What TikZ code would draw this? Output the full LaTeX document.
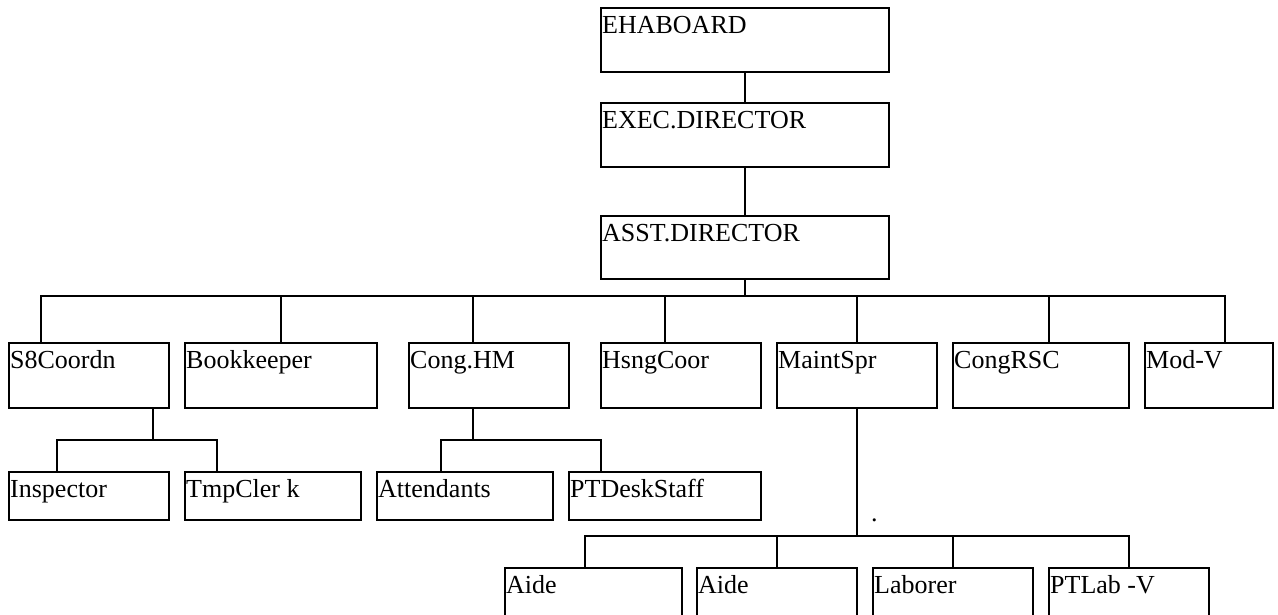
\documentclass[tikz,border=0pt]{standalone}
\usepackage{fontspec}
\setmainfont{Liberation Serif}
\begin{document}
\begin{tikzpicture}[x=1pt,y=-1pt,
  box/.style={draw,line width=2pt,anchor=north west,inner sep=0pt,outer sep=0pt,minimum width=#1},
  top/.style={minimum height=64pt},
  mid/.style={minimum height=65pt},
  low/.style={minimum height=48pt},
  bot/.style={minimum height=80pt},
  lbl/.style={anchor=base west,inner sep=0pt,font=\fontsize{26}{30}\selectfont},
  conn/.style={line width=2pt}]
\useasboundingbox (0,0) rectangle (1278,614);
\clip (0,0) rectangle (1278,614);
% top chain
\node[box=288pt,top] (eha) at (601,8) {};
\node[box=288pt,top] (exec) at (601,103) {};
\node[box=288pt,top,minimum height=63pt] (asst) at (601,216) {};
% level 1
\node[box=160pt,mid] (s8) at (9,343) {};
\node[box=192pt,mid] (book) at (185,343) {};
\node[box=160pt,mid] (cong) at (409,343) {};
\node[box=160pt,mid] (hsng) at (601,343) {};
\node[box=160pt,mid] (maint) at (777,343) {};
\node[box=176pt,mid] (rsc) at (953,343) {};
\node[box=128pt,mid] (modv) at (1145,343) {};
% level 2
\node[box=160pt,low] (insp) at (9,472) {};
\node[box=176pt,low] (tmp) at (185,472) {};
\node[box=176pt,low] (att) at (377,472) {};
\node[box=192pt,low] (ptd) at (569,472) {};
% level 3
\node[box=177pt,bot] (aide1) at (505,568) {};
\node[box=160pt,bot] (aide2) at (697,568) {};
\node[box=160pt,bot] (lab) at (873,568) {};
\node[box=160pt,bot] (ptlab) at (1049,568) {};
% labels
\node[lbl] at ([shift={(1,25)}]eha.north west) {EHABOARD};
\node[lbl] at ([shift={(1,25)}]exec.north west) {EXEC.DIRECTOR};
\node[lbl] at ([shift={(1,25)}]asst.north west) {ASST.DIRECTOR};
\node[lbl] at ([shift={(1,25)}]s8.north west) {S8Coordn};
\node[lbl] at ([shift={(1,25)}]book.north west) {Bookkeeper};
\node[lbl] at ([shift={(1,25)}]cong.north west) {Cong.HM};
\node[lbl] at ([shift={(1,25)}]hsng.north west) {HsngCoor};
\node[lbl] at ([shift={(1,25)}]maint.north west) {MaintSpr};
\node[lbl] at ([shift={(1,25)}]rsc.north west) {CongRSC};
\node[lbl] at ([shift={(1,25)}]modv.north west) {Mod-V};
\node[lbl] at ([shift={(1,25)}]insp.north west) {Inspector};
\node[lbl] at ([shift={(1,25)}]tmp.north west) {TmpCler k};
\node[lbl] at ([shift={(1,25)}]att.north west) {Attendants};
\node[lbl] at ([shift={(1,25)}]ptd.north west) {PTDeskStaff};
\node[lbl] at ([shift={(1,25)}]aide1.north west) {Aide};
\node[lbl] at ([shift={(1,25)}]aide2.north west) {Aide};
\node[lbl] at ([shift={(1,25)}]lab.north west) {Laborer};
\node[lbl] at ([shift={(1,25)}]ptlab.north west) {PTLab -V};
\node[lbl] (dot) at (871,521) {.};
% connectors top chain
\draw[conn] (eha.south) -- (exec.north);
\draw[conn] (exec.south) -- (asst.north);
% level 1 bus
\coordinate (b1) at ([yshift=-17]asst.south);
\coordinate (s8t) at ([xshift=32]s8.north west);
\coordinate (bookt) at (book.north);
\coordinate (congt) at ([xshift=64]cong.north west);
\coordinate (hsngt) at ([xshift=64]hsng.north west);
\coordinate (maintt) at (maint.north);
\coordinate (rsct) at ([xshift=96]rsc.north west);
\coordinate (modvt) at ([xshift=80]modv.north west);
\draw[conn] (asst.south) -- (b1);
\draw[conn] (s8t) |- (b1) -| (modvt);
\foreach \n in {bookt,congt,hsngt,maintt,rsct}
  \draw[conn] (\n) -- (\n |- b1);
% S8 children
\coordinate (s8b) at ([xshift=144]s8.south west);
\coordinate (b2) at ([yshift=-32]s8b);
\coordinate (inspt) at ([xshift=48]insp.north west);
\coordinate (tmpt) at ([xshift=32]tmp.north west);
\draw[conn] (s8b) -- (b2);
\draw[conn] (inspt) |- (b2) -| (tmpt);
% Cong.HM children
\coordinate (congb) at ([xshift=64]cong.south west);
\coordinate (b3) at ([yshift=-32]congb);
\coordinate (attt) at ([xshift=64]att.north west);
\coordinate (ptdt) at ([xshift=32]ptd.north west);
\draw[conn] (congb) -- (b3);
\draw[conn] (attt) |- (b3) -| (ptdt);
% MaintSpr children
\coordinate (b4) at ([yshift=-128]maint.south);
\coordinate (a1t) at ([xshift=80]aide1.north west);
\coordinate (a2t) at ([xshift=80]aide2.north west);
\coordinate (labt) at ([xshift=80]lab.north west);
\coordinate (ptlt) at ([xshift=80]ptlab.north west);
\draw[conn] (maint.south) -- (b4);
\draw[conn] (a1t) |- (b4) -| (ptlt);
\draw[conn] (a2t) -- (a2t |- b4);
\draw[conn] (labt) -- (labt |- b4);
\end{tikzpicture}
\end{document}
